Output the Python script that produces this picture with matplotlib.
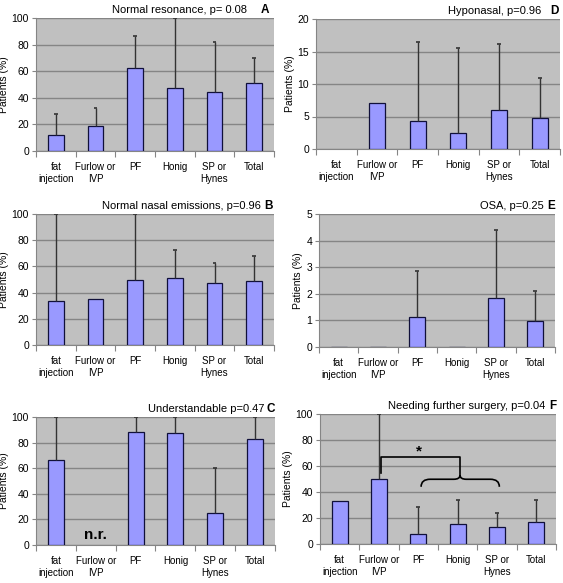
"""Six-panel bar chart of speech outcomes by surgical technique (Excel-style)."""
import numpy as np
import matplotlib
matplotlib.use("Agg")
import matplotlib.pyplot as plt
from matplotlib.path import Path
from matplotlib.patches import PathPatch

plt.rcParams["font.family"] = ["Liberation Sans", "DejaVu Sans"]

categories = ["fat\ninjection", "Furlow or\nIVP", "PF", "Honig", "SP or\nHynes", "Total"]

# bar heights (%) and tops of upper error bars (nan = no bar / no error)
nan = np.nan
res_val = [11.8, 18.8, 62.3, 47.5, 44.2, 50.8]
res_top = [27.9, 32.2, 86.2, 100, 81.9, 69.8]
hypo_val = [nan, 7.1, 4.3, 2.4, 6.0, 4.7]
hypo_top = [nan, nan, 16.4, 15.6, 16.2, 11.0]
nasal_val = [33.4, 35.2, 49.7, 50.8, 47.4, 48.5]
nasal_top = [100, nan, 100, 72.2, 62.8, 67.9]
osa_val = [0, 0, 1.12, 0, 1.85, 0.98]
osa_top = [nan, nan, 2.84, nan, 4.39, 2.12]
under_val = [66.2, nan, 88.6, 87.8, 25.2, 82.9]
under_top = [100, nan, 100, 100, 60.3, 100]
surg_val = [33.4, 50.0, 7.4, 15.1, 13.3, 17.1]
surg_top = [nan, 100, 28.1, 33.7, 24.2, 33.7]

W, H = 563, 583
fig = plt.figure(figsize=(W / 100, H / 100), dpi=100)

BAR = "#9999FF"
BG = "#C0C0C0"
GRID = "#858585"


def add_axes(left, right, top, bottom):
    return fig.add_axes([left / W, 1 - bottom / H, (right - left) / W, (bottom - top) / H])


def panel(ax, vals, tops, ymax, ystep, title, letter, letter_off, title_off):
    x = np.arange(len(categories))
    vals = np.array(vals, dtype=float)
    tops = np.array(tops, dtype=float)
    ax.set_facecolor(BG)
    ok = ~np.isnan(vals)
    ax.bar(x[ok], vals[ok], width=0.4, color=BAR, edgecolor="#10103a", linewidth=0.9, zorder=3)
    for xi, v, t in zip(x, vals, tops):
        if np.isnan(t):
            continue
        ax.vlines(xi, v, t, color="#333333", lw=1.0, zorder=4)
        ax.hlines(t, xi - 0.05, xi + 0.05, color="#333333", lw=1.2, zorder=4)
    ax.set_xlim(-0.5, len(categories) - 0.5)
    ax.set_ylim(0, ymax)
    ax.set_yticks(np.arange(0, ymax + ystep / 2, ystep))
    ax.yaxis.grid(True, color=GRID, lw=1.0)
    ax.set_axisbelow(True)
    ax.set_xticks(np.arange(-0.5, len(categories)), labels=[])
    ax.set_xticks(x, labels=categories, minor=True)
    ax.tick_params(axis="x", which="major", length=4, color=GRID, direction="out")
    ax.tick_params(axis="x", which="minor", length=0, pad=8, labelsize=7)
    ax.tick_params(axis="y", length=3, color=GRID, pad=2, labelsize=7.5)
    for s in ("top", "right"):
        ax.spines[s].set_visible(False)
    for s in ("left", "bottom"):
        ax.spines[s].set_color(GRID)
    ax.set_ylabel("Patients (%)", fontsize=7.5, labelpad=2)
    ax.annotate(letter, xy=(1, 1), xycoords="axes fraction", xytext=(letter_off, 5),
                textcoords="offset pixels", ha="right", va="baseline",
                fontsize=8.5, fontweight="bold")
    ax.annotate(title, xy=(1, 1), xycoords="axes fraction", xytext=(title_off, 5),
                textcoords="offset pixels", ha="right", va="baseline", fontsize=8)
    return ax


axA = panel(add_axes(36, 274, 18, 151), res_val, res_top, 100, 20,
            "Normal resonance, p= 0.08", "A", -5, -27)
axD = panel(add_axes(316, 560, 19, 149), hypo_val, hypo_top, 20, 5,
            "Hyponasal, p=0.96", "D", -1, -19)
axB = panel(add_axes(36, 274, 214, 345), nasal_val, nasal_top, 100, 20,
            "Normal nasal emissions, p=0.96", "B", -1, -13)
axE = panel(add_axes(319, 555, 214, 347), osa_val, osa_top, 5, 1,
            "OSA, p=0.25", "E", 0, -11)
axC = panel(add_axes(36, 275, 417, 545), under_val, under_top, 100, 20,
            "Understandable p=0.47", "C", 0, -11)
axF = panel(add_axes(320, 556, 414, 544), surg_val, surg_top, 100, 20,
            "Needing further surgery, p=0.04", "F", 0, -11)

# n.r. marker for Furlow in panel C
axC.text(1, 8, "n.r.", ha="center", va="center", fontsize=11, fontweight="bold", zorder=5)

# significance bracket and brace in panel F
axF.plot([1.05, 1.05, 3.05, 3.05], [55, 66.7, 66.7, 53], color="black", lw=1.2, zorder=5)
verts = [(2.07, 44), (2.07, 49.8), (2.3, 49.8),
         (2.9, 49.8),
         (3.06, 49.8), (3.06, 53), (3.06, 53),
         (3.06, 49.8), (3.22, 49.8),
         (3.83, 49.8),
         (4.06, 49.8), (4.06, 44)]
codes = [Path.MOVETO, Path.CURVE3, Path.CURVE3,
         Path.LINETO,
         Path.CURVE3, Path.CURVE3, Path.MOVETO,
         Path.CURVE3, Path.CURVE3,
         Path.LINETO,
         Path.CURVE3, Path.CURVE3]
axF.add_patch(PathPatch(Path(verts, codes), fill=False, color="black", lw=1.2, zorder=5))
axF.text(2.02, 71, "*", ha="center", va="center", fontsize=11, fontweight="bold", zorder=5)

fig.savefig("out.png", dpi=100)
